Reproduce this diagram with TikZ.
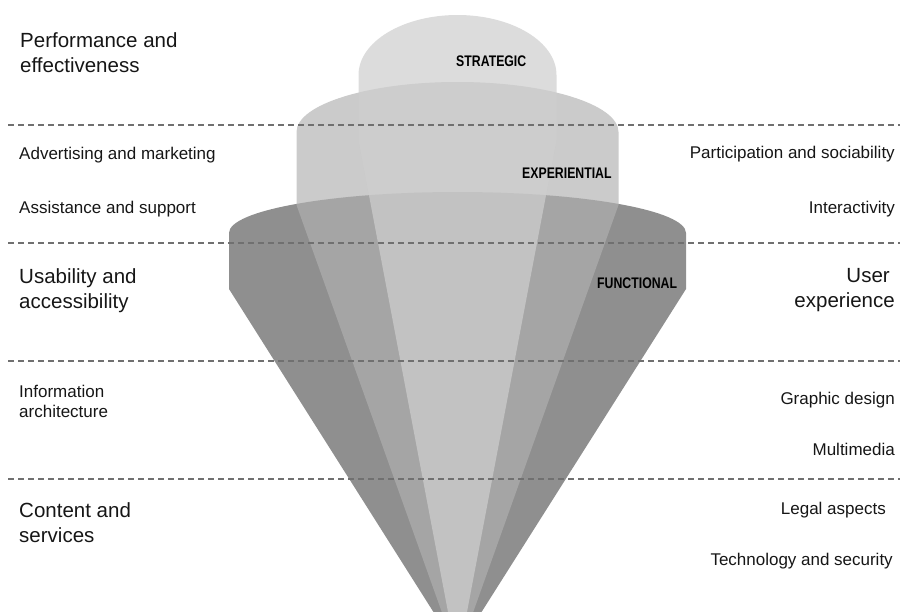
\documentclass[tikz,border=0pt]{standalone}
\usepackage{fontspec}
\setmainfont{Liberation Sans}
\usepackage{graphicx}

\definecolor{funcfill}{RGB}{143,143,143}
\definecolor{expfill}{RGB}{177,177,177}
\definecolor{stratfill}{RGB}{206,206,206}
\definecolor{guide}{RGB}{112,112,112}
\definecolor{ink}{RGB}{22,22,22}

\tikzset{
  bigtext/.style={font=\fontsize{17.5pt}{21.3pt}\selectfont, text=ink, inner sep=0pt},
  smalltext/.style={font=\fontsize{14.5pt}{17pt}\selectfont, text=ink, inner sep=0pt},
  layerlabel/.style={font=\fontsize{13.1pt}{15pt}\selectfont\bfseries, text=black, inner sep=0pt},
  guideline/.style={draw=guide, line width=1pt, dash pattern=on 0.18cm off 0.12cm},
}

% Cone layer: half width, top of dome, start of straight side, bend, tip (centre x = 457.5)
\newcommand\conelayer[5]{%
  ({457.5-#1},#4) -- ({457.5-#1},#3)
  .. controls ({457.5-#1},{#3-0.5523*(#3-#2)}) and ({457.5-0.5523*#1},#2) .. (457.5,#2)
  .. controls ({457.5+0.5523*#1},#2) and ({457.5+#1},{#3-0.5523*(#3-#2)}) .. ({457.5+#1},#3)
  -- ({457.5+#1},#4) -- (457.5,#5) -- cycle}

\begin{document}
\begin{tikzpicture}[x=0.03cm, y=-0.03cm]
  \useasboundingbox (0,0) rectangle (900,611);

  % three overlapping layers
  \begin{scope}
    \clip (0,0) rectangle (900,611);
    \fill[funcfill] \conelayer{228.5}{192}{233}{289}{650};
    \fill[expfill, fill opacity=0.67] \conelayer{161}{82}{132}{205}{656};
    \fill[stratfill, fill opacity=0.72] \conelayer{99}{15}{75}{140}{662};
  \end{scope}

  % dashed band separators
  \coordinate (g1a) at (8,125);  \coordinate (g1b) at (900,125);
  \coordinate (g2a) at (8,243);  \coordinate (g2b) at (900,243);
  \coordinate (g3a) at (8,361);  \coordinate (g3b) at (900,361);
  \coordinate (g4a) at (8,479);  \coordinate (g4b) at (900,479);
  \draw[guideline] (g1a) -- (g1b);
  \draw[guideline] (g2a) -- (g2b);
  \draw[guideline] (g3a) -- (g3b);
  \draw[guideline] (g4a) -- (g4b);

  % layer names
  \node[layerlabel, anchor=base west] (strategic) at (456,66) {\scalebox{0.8}[1]{STRATEGIC}};
  \node[layerlabel, anchor=base west] (experiential) at (522,178) {\scalebox{0.8}[1]{EXPERIENTIAL}};
  \node[layerlabel, anchor=base west] (functional) at (597,288) {\scalebox{0.8}[1]{FUNCTIONAL}};

  % left column (multi-line nodes are anchored on their last line)
  \node[bigtext, align=left, anchor=base west] (perf) at (20,72) {Performance and\\effectiveness};
  \node[smalltext, anchor=base west] (advert) at (19,159) {Advertising and marketing};
  \node[smalltext, anchor=base west] (assist) at (19,213) {Assistance and support};
  \node[bigtext, align=left, anchor=base west] (usab) at (19,308) {Usability and\\accessibility};
  \node[smalltext, align=left, anchor=base west] (info) at (19,417) {Information\\architecture};
  \node[bigtext, align=left, anchor=base west] (content) at (19,542) {Content and\\services};

  % right column
  \node[smalltext, anchor=base east] (particip) at (895,158) {Participation and sociability};
  \node[smalltext, anchor=base east] (interact) at (895,213) {Interactivity};
  \node[bigtext, align=right, anchor=base east] (ux) at (895,307) {User\kern0.15cm\\experience};
  \node[smalltext, anchor=base east] (graphic) at (895,404) {Graphic design};
  \node[smalltext, anchor=base east] (multi) at (895,455) {Multimedia};
  \node[smalltext, anchor=base east] (legal) at (886,514) {Legal aspects};
  \node[smalltext, anchor=base east] (tech) at (893,565) {Technology and security};
\end{tikzpicture}
\end{document}
